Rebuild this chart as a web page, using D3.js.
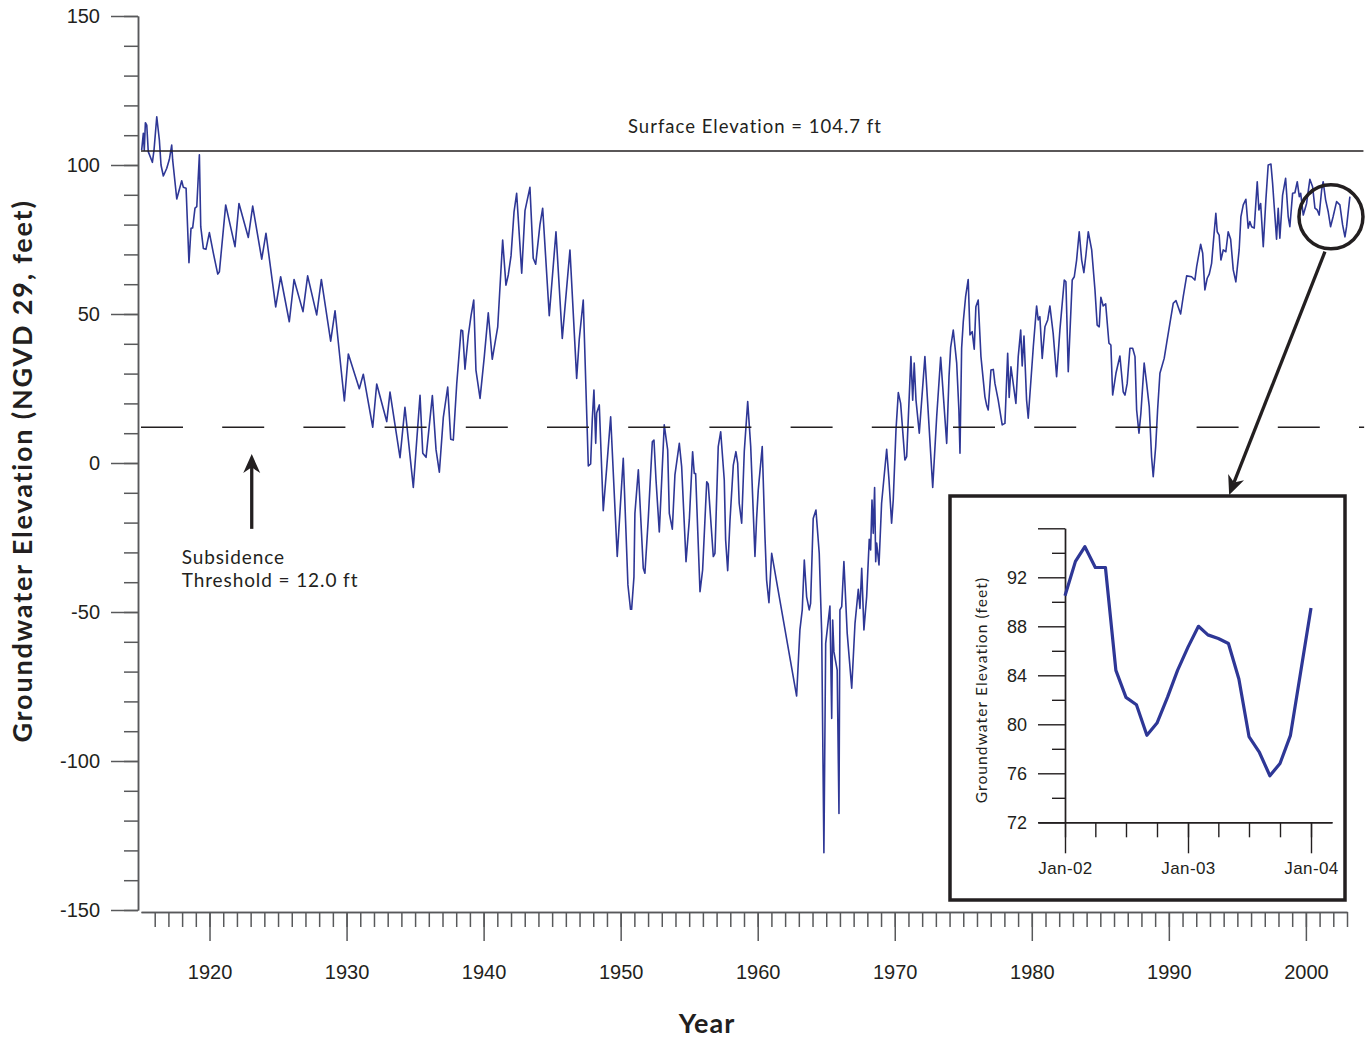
<!DOCTYPE html>
<html>
<head>
<meta charset="utf-8">
<title>Groundwater Elevation</title>
<script src="https://d3js.org/d3.v7.min.js"></script>
<style>
  body { margin: 0; background: #fff; }
  svg { display: block; font-family: Lato, "Noto Sans", sans-serif; }
</style>
</head>
<body>
<svg width="1372" height="1038"></svg>
<script>
// well hydrograph (decimal year, feet NGVD 29)
const years = [
  1915.05,1915.17,1915.24,1915.32,1915.42,1915.53,1915.83,1915.95,1916.15,1916.34,
  1916.46,1916.63,1916.88,1917.07,1917.24,1917.31,1917.61,1917.97,1918.09,1918.29,
  1918.50,1918.65,1918.77,1918.94,1919.07,1919.26,1919.36,1919.55,1919.74,1919.99,
  1920.28,1920.60,1920.72,1921.18,1921.86,1922.15,1922.83,1923.15,1923.81,1924.12,
  1924.83,1925.19,1925.82,1926.17,1926.82,1927.16,1927.82,1928.16,1928.84,1929.16,
  1929.84,1930.13,1930.93,1931.22,1931.91,1932.20,1932.93,1933.17,1933.90,1934.26,
  1934.87,1935.36,1935.56,1935.80,1936.26,1936.53,1936.77,1937.06,1937.38,1937.60,
  1937.79,1938.04,1938.35,1938.47,1938.64,1938.88,1939.08,1939.28,1939.44,1939.74,
  1940.05,1940.34,1940.63,1941.03,1941.39,1941.63,1941.80,1942.00,1942.22,1942.41,
  1942.78,1943.02,1943.38,1943.62,1943.80,1944.11,1944.31,1944.79,1945.28,1945.74,
  1946.30,1946.79,1946.98,1947.27,1947.64,1947.81,1947.93,1948.05,1948.18,1948.25,
  1948.44,1948.73,1948.98,1949.27,1949.75,1950.19,1950.53,1950.72,1950.80,1950.97,
  1951.04,1951.29,1951.65,1951.77,1952.01,1952.31,1952.43,1952.58,1952.82,1952.99,
  1953.18,1953.43,1953.55,1953.77,1953.96,1954.28,1954.45,1954.77,1955.01,1955.25,
  1955.37,1955.47,1955.79,1955.98,1956.28,1956.39,1956.76,1956.88,1957.12,1957.30,
  1957.56,1957.66,1957.81,1957.98,1958.22,1958.41,1958.54,1958.65,1958.83,1959.02,
  1959.27,1959.49,1959.80,1959.92,1960.04,1960.33,1960.53,1960.65,1960.82,1961.02,
  1962.84,1963.08,1963.25,1963.40,1963.57,1963.76,1963.86,1964.05,1964.25,1964.49,
  1964.67,1964.83,1964.96,1965.10,1965.27,1965.40,1965.47,1965.56,1965.80,1965.93,
  1966.00,1966.13,1966.29,1966.53,1966.86,1967.10,1967.34,1967.46,1967.59,1967.75,
  1967.95,1968.14,1968.24,1968.34,1968.43,1968.53,1968.61,1968.68,1968.85,1969.04,
  1969.41,1969.58,1969.77,1969.89,1970.09,1970.26,1970.43,1970.74,1970.87,1971.18,
  1971.31,1971.42,1971.55,1971.79,1972.20,1972.77,1973.06,1973.35,1973.79,1973.96,
  1974.08,1974.27,1974.52,1974.68,1974.76,1974.88,1975.00,1975.17,1975.36,1975.49,
  1975.65,1975.80,1975.92,1976.09,1976.29,1976.58,1976.70,1976.82,1977.02,1977.19,
  1977.31,1977.55,1977.84,1978.04,1978.24,1978.35,1978.48,1978.84,1979.01,1979.19,
  1979.30,1979.43,1979.62,1979.74,1980.11,1980.35,1980.47,1980.59,1980.76,1980.96,
  1981.16,1981.32,1981.56,1981.81,1982.05,1982.37,1982.49,1982.66,1982.95,1983.10,
  1983.27,1983.46,1983.64,1983.80,1983.95,1984.12,1984.37,1984.61,1984.77,1984.92,
  1985.04,1985.21,1985.39,1985.63,1985.77,1985.90,1986.14,1986.43,1986.67,1986.80,
  1986.96,1987.16,1987.36,1987.53,1987.65,1987.82,1987.96,1988.20,1988.38,1988.57,
  1988.74,1988.86,1989.04,1989.18,1989.35,1989.66,1989.84,1990.08,1990.32,1990.52,
  1990.86,1991.05,1991.30,1991.66,1991.90,1992.03,1992.32,1992.47,1992.63,1992.80,
  1992.95,1993.12,1993.24,1993.43,1993.53,1993.67,1993.80,1993.97,1994.16,1994.33,
  1994.51,1994.70,1994.89,1995.13,1995.26,1995.43,1995.62,1995.79,1995.91,1996.04,
  1996.23,1996.45,1996.57,1996.70,1996.89,1997.08,1997.25,1997.45,1997.57,1997.69,
  1997.86,1997.98,1998.10,1998.30,1998.52,1998.71,1998.83,1999.03,1999.20,1999.37,
  1999.52,1999.62,1999.81,2000.05,2000.29,2000.49,2000.66,2000.83,2000.97,2001.15,
  2001.26,2001.44,2001.63,2001.80,2001.99,2002.24,2002.48,2002.68,2002.85,2002.97,
  2003.21
];
const elevation = [
  105.0,110.6,105.0,114.2,113.4,104.5,100.9,105.0,116.2,108.4,
  100.0,96.3,98.9,101.9,106.7,101.7,88.6,94.7,92.5,92.2,
  67.2,78.8,78.9,85.5,86.0,103.4,79.3,72.0,71.7,77.3,
  70.4,63.4,64.2,86.6,72.6,87.1,75.7,86.2,68.4,77.1,
  52.4,62.5,47.4,61.6,50.8,62.8,49.7,61.6,40.9,51.1,
  20.8,36.6,24.9,29.8,12.0,26.5,13.9,23.8,1.8,18.7,
  -8.2,22.7,3.3,1.9,22.6,4.4,-3.1,15.3,25.5,8.0,
  7.7,26.7,44.6,44.4,31.5,42.7,49.4,54.7,31.2,21.7,
  35.7,50.4,34.8,45.7,74.8,59.7,63.1,69.5,84.3,90.5,
  63.7,84.7,92.5,68.7,66.7,79.9,85.5,49.4,77.6,41.8,
  71.5,28.4,41.6,54.7,-1.0,-0.3,14.7,24.5,6.6,16.8,
  19.5,-16.0,-1.7,15.5,-31.4,1.6,-40.9,-49.1,-49.1,-38.2,
  -16.9,-2.3,-35.3,-37.0,-19.1,7.1,7.7,-5.7,-23.1,-6.3,
  12.8,4.4,-16.9,-22.2,-4.0,6.6,-1.2,-33.1,-19.1,3.8,
  -3.5,-3.5,-43.2,-35.9,-6.3,-7.0,-31.4,-30.3,5.5,10.5,
  -5.7,-25.8,-36.1,-19.1,-0.7,3.8,-0.1,-13.5,-20.2,3.8,
  20.6,5.5,-31.4,-18.6,-9.1,5.5,-24.7,-39.3,-46.9,-30.3,
  -78.2,-56.0,-49.3,-32.6,-44.9,-49.3,-47.1,-18.6,-15.8,-30.3,
  -57.1,-130.8,-60.5,-54.9,-48.0,-85.7,-52.7,-63.3,-69.5,-117.6,
  -49.3,-48.2,-33.1,-57.1,-75.6,-53.8,-42.4,-48.8,-35.3,-56.0,
  -44.9,-25.6,-29.2,-12.4,-23.6,-8.2,-33.1,-26.9,-34.2,-13.5,
  4.6,-5.7,-20.2,-12.4,11.1,23.6,20.0,1.0,2.1,35.7,
  21.1,33.5,21.1,10.0,35.7,-8.2,15.5,35.5,6.6,29.0,
  38.8,44.6,33.5,17.8,3.3,38.5,47.4,55.8,61.6,43.0,
  44.1,38.2,52.4,54.7,35.7,22.2,19.5,17.8,31.2,31.4,
  26.7,21.1,12.8,13.3,36.8,22.0,32.3,20.0,35.7,44.6,
  32.6,42.6,21.1,15.0,39.0,52.7,48.0,49.1,35.1,45.7,
  48.0,52.7,43.5,29.0,44.6,61.4,60.8,30.6,61.4,62.5,
  68.1,77.6,68.1,63.9,69.8,77.6,71.5,58.1,46.3,45.7,
  55.6,52.7,53.4,40.2,39.6,22.8,30.1,35.9,23.9,22.8,
  26.7,38.5,38.5,35.7,17.8,10.0,16.7,33.5,26.7,18.9,
  2.1,-4.6,5.5,17.8,30.1,35.1,40.2,46.9,53.6,54.5,
  50.0,55.8,62.8,62.5,61.4,65.9,73.4,70.4,58.1,62.0,
  63.4,67.0,73.7,83.8,77.6,76.5,68.1,71.5,70.9,77.6,
  75.1,64.8,60.8,71.5,82.7,86.6,88.5,78.8,81.0,79.3,
  78.8,94.4,84.9,87.1,72.6,88.3,100.0,100.3,93.9,86.0,
  75.1,85.5,75.4,89.9,95.5,82.7,79.3,90.5,90.7,94.4,
  89.4,90.5,83.2,87.1,95.2,92.7,85.5,84.9,83.2,91.6,
  94.4,88.3,84.3,79.3,82.7,87.7,86.6,79.9,75.9,79.3,
  89.4
];

// inset: monthly readings Jan 2002 - Jan 2004
const insetMonths = [
  '2002-01','2002-02','2002-03','2002-04','2002-05','2002-06','2002-07','2002-08','2002-09',
  '2002-10','2002-11','2002-12','2003-01','2003-02','2003-03','2003-04','2003-05','2003-06',
  '2003-07','2003-08','2003-09','2003-10','2003-11','2003-12','2004-01'
];
const insetElevation = [
  90.5,93.3,94.5,92.8,92.8,84.4,82.2,81.6,79.1,
  80.1,82.2,84.4,86.3,88.0,87.3,87.0,86.6,83.7,
  79.0,77.7,75.8,76.8,79.1,84.2,89.5
];

const yTickLabels = [-150, -100, -50, 0, 50, 100, 150];
const xTickLabels = [1920, 1930, 1940, 1950, 1960, 1970, 1980, 1990, 2000];
const insetTickLabels = [72, 76, 80, 84, 88, 92];
const surfaceElevation = 104.7;
const subsidenceThreshold = 12.0;

const svg = d3.select('svg');
const blue = '#2e3796';
const ink = '#231f20';
const axisGray = '#58595b';

const x = d3.scaleLinear().domain([1915, 2003]).range([141, 1347]);
const y = d3.scaleLinear().domain([-150, 150]).range([910, 16]);

const styleAxis = g => {
    g.selectAll('path, line').attr('stroke', axisGray).attr('stroke-width', 1.5);
    g.selectAll('text').attr('fill', ink).attr('font-size', 20);
};

// y axis, short ticks every 10, long every 50
svg.append('g').attr('transform', 'translate(138,0)')
    .call(d3.axisLeft(y).tickValues(d3.range(-150, 151, 10)).tickSize(14).tickSizeOuter(0).tickFormat(''))
    .call(styleAxis);
svg.append('g').attr('transform', 'translate(138,0)')
    .call(d3.axisLeft(y).tickValues(yTickLabels).tickSize(27).tickSizeOuter(0).tickPadding(11)
        .tickFormat(d => String(d)))
    .call(styleAxis);

// x axis, yearly ticks, long ones per decade
svg.append('g').attr('transform', 'translate(0,912)')
    .call(d3.axisBottom(x).tickValues(d3.range(1916, 2004)).tickSize(15).tickSizeOuter(0).tickFormat(''))
    .call(styleAxis);
svg.append('g').attr('transform', 'translate(0,912)')
    .call(d3.axisBottom(x).tickValues(xTickLabels).tickSize(29).tickSizeOuter(0).tickPadding(24)
        .tickFormat(d => String(d)))
    .call(styleAxis);

// axis titles
svg.append('text')
    .attr('transform', 'translate(32,471) rotate(-90)')
    .attr('text-anchor', 'middle')
    .attr('font-size', 27).attr('font-weight', 'bold').attr('fill', ink)
    .attr('letter-spacing', 1.8)
    .text('Groundwater Elevation (NGVD 29, feet)');
svg.append('text')
    .attr('x', 707).attr('y', 1033)
    .attr('text-anchor', 'middle')
    .attr('font-size', 27).attr('font-weight', 'bold').attr('fill', ink)
    .attr('letter-spacing', 1)
    .text('Year');

// hydrograph
const line = d3.line().x(d => x(d[0])).y(d => y(d[1]));
svg.append('path')
    .datum(years.map((yr, i) => [yr, elevation[i]]))
    .attr('d', line)
    .attr('fill', 'none')
    .attr('stroke', blue)
    .attr('stroke-width', 1.6)
    .attr('stroke-linejoin', 'round');

// reference lines
svg.append('line')
    .attr('x1', x(1915)).attr('x2', x(2004.2))
    .attr('y1', y(surfaceElevation)).attr('y2', y(surfaceElevation))
    .attr('stroke', ink).attr('stroke-width', 1.6);
svg.append('line')
    .attr('x1', x(1915)).attr('x2', x(2004.25))
    .attr('y1', y(subsidenceThreshold)).attr('y2', y(subsidenceThreshold))
    .attr('stroke', ink).attr('stroke-width', 1.6)
    .attr('stroke-dasharray', '42,39.2');

svg.append('text')
    .attr('x', x(1959.8)).attr('y', y(110.7))
    .attr('text-anchor', 'middle')
    .attr('font-size', 18.5).attr('fill', ink)
    .attr('letter-spacing', 1)
    .text('Surface Elevation = ' + surfaceElevation + ' ft');

const subs = svg.append('text')
    .attr('x', x(1917.97)).attr('y', y(-33.9))
    .attr('font-size', 19).attr('fill', ink)
    .attr('letter-spacing', 0.9);
subs.append('tspan').text('Subsidence');
subs.append('tspan').attr('x', x(1917.97)).attr('dy', 23).text('Threshold = ' + subsidenceThreshold.toFixed(1) + ' ft');

// arrow heads: filled, notched triangle pointing at tip
const arrowHead = (tip, from, len, half) => {
    const dx = tip[0] - from[0], dy = tip[1] - from[1];
    const l = Math.hypot(dx, dy), ux = dx / l, uy = dy / l;
    const bx = tip[0] - ux * len, by = tip[1] - uy * len;
    const nx = -uy, ny = ux;
    const notch = [tip[0] - ux * len * 0.7, tip[1] - uy * len * 0.7];
    return `M${tip}L${bx + nx * half},${by + ny * half}L${notch}L${bx - nx * half},${by - ny * half}Z`;
};

const arrowX = x(1923.08);
svg.append('line')
    .attr('x1', arrowX).attr('x2', arrowX)
    .attr('y1', y(-22.1)).attr('y2', y(0))
    .attr('stroke', ink).attr('stroke-width', 3.3);
svg.append('path')
    .attr('d', arrowHead([arrowX, y(3.0)], [arrowX, y(-22.1)], 19, 8.5))
    .attr('fill', ink);

// circle around the last years and leader to the inset
svg.append('circle')
    .attr('cx', x(2001.83)).attr('cy', y(82.6)).attr('r', 32)
    .attr('fill', 'none').attr('stroke', ink).attr('stroke-width', 3.5);
const leadFrom = [x(2001.39), y(70.9)];
const leadTip = [x(1994.4), y(-10.7)];
svg.append('line')
    .attr('x1', leadFrom[0]).attr('y1', leadFrom[1])
    .attr('x2', leadTip[0] + (leadFrom[0] - leadTip[0]) * 0.05)
    .attr('y2', leadTip[1] + (leadFrom[1] - leadTip[1]) * 0.05)
    .attr('stroke', ink).attr('stroke-width', 3.3);
svg.append('path')
    .attr('d', arrowHead(leadTip, leadFrom, 19, 8.5))
    .attr('fill', ink);

// ---------- inset ----------
const inset = svg.append('g');
inset.append('rect')
    .attr('x', 950).attr('y', 496).attr('width', 395).attr('height', 404)
    .attr('fill', '#fff').attr('stroke', ink).attr('stroke-width', 3.5);

const parseMonth = d3.timeParse('%Y-%m');
const xIn0 = d3.scaleTime().domain([parseMonth('2002-01'), parseMonth('2004-01')]).range([1065, 1311]);
const xIn = d3.scaleTime().domain([xIn0.invert(1038), xIn0.invert(1332)]).range([1038, 1332]);
const yIn = d3.scaleLinear().domain([72, 96]).range([822.3, 528.3]);

const styleInset = g => {
    g.selectAll('path, line').attr('stroke', ink).attr('stroke-width', 1.4);
    g.selectAll('text').attr('fill', ink).attr('font-size', 18);
};

inset.append('g').attr('transform', 'translate(1065,0)')
    .call(d3.axisLeft(yIn).tickValues(d3.range(74, 96, 4)).tickSize(13).tickSizeOuter(0).tickFormat(''))
    .call(styleInset);
inset.append('g').attr('transform', 'translate(1065,0)')
    .call(d3.axisLeft(yIn).tickValues(d3.range(72, 97, 4)).tickSize(27).tickSizeOuter(0).tickPadding(11)
        .tickFormat(d => insetTickLabels.includes(d) ? d : ''))
    .call(styleInset);

inset.append('g').attr('transform', 'translate(0,822.3)')
    .call(d3.axisBottom(xIn).ticks(d3.timeMonth.every(3)).tickSize(15).tickSizeOuter(0).tickFormat(''))
    .call(styleInset);
inset.append('g').attr('transform', 'translate(0,822.3)')
    .call(d3.axisBottom(xIn).ticks(d3.timeYear.every(1)).tickSize(31).tickSizeOuter(0).tickPadding(9)
        .tickFormat(d3.timeFormat('%b-%y')))
    .call(styleInset)
    .call(g => g.selectAll('text').attr('font-size', 17).attr('letter-spacing', 0.4));

inset.append('text')
    .attr('transform', 'translate(987,690) rotate(-90)')
    .attr('text-anchor', 'middle')
    .attr('font-size', 15.5).attr('fill', ink)
    .attr('letter-spacing', 1.1)
    .text('Groundwater Elevation (feet)');

inset.append('path')
    .datum(insetMonths.map((m, i) => [parseMonth(m), insetElevation[i]]))
    .attr('d', d3.line().x(d => xIn(d[0])).y(d => yIn(d[1])))
    .attr('fill', 'none')
    .attr('stroke', blue)
    .attr('stroke-width', 3.2)
    .attr('stroke-linejoin', 'round');
</script>
</body>
</html>
